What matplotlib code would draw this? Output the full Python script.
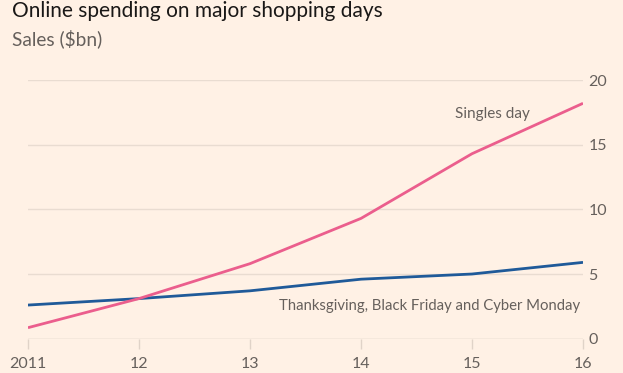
import matplotlib.pyplot as plt

# data
years = [2011, 2012, 2013, 2014, 2015, 2016]
singles_day = [0.85, 3.1, 5.8, 9.3, 14.3, 18.2]
us_days = [2.6, 3.1, 3.7, 4.6, 5.0, 5.9]
year_labels = ['2011', '12', '13', '14', '15', '16']
y_ticks = [0, 5, 10, 15, 20]

bg = '#FFF1E5'
grey = '#66605C'
grid = '#E9DCD1'

plt.rcParams['font.family'] = ['Lato', 'DejaVu Sans']

fig = plt.figure(figsize=(6.23, 3.73), dpi=100, facecolor=bg)
ax = fig.add_axes([0.0449, 0.092, 0.8909, 0.6935], facecolor=bg)

ax.plot(years, us_days, color='#1F5A99', lw=2.0, solid_capstyle='butt', zorder=3)
ax.plot(years, singles_day, color='#EB5E8D', lw=2.0, solid_capstyle='butt', zorder=4)

ax.set_xlim(2011, 2016)
ax.set_ylim(0, 20)
ax.set_xticks(years)
ax.set_xticklabels(year_labels)
ax.set_yticks(y_ticks)
ax.yaxis.tick_right()
ax.grid(axis='y', color=grid, lw=1.0)
for s in ax.spines.values():
    s.set_visible(False)
ax.axhline(0, color='#E0D3C8', lw=1.0, zorder=1)
ax.tick_params(axis='y', length=0, pad=4, labelsize=11.5, labelcolor=grey)
ax.tick_params(axis='x', length=7, width=1, color='#E0D3C8', pad=6,
               labelsize=11.5, labelcolor=grey)

ax.text(2015.52, 17.4, 'Singles day', ha='right', va='center', fontsize=11, color=grey)
ax.text(2015.97, 2.5, 'Thanksgiving, Black Friday and Cyber Monday',
        ha='right', va='center', fontsize=10.7, color=grey)

fig.text(12 / 623, 1 - 17 / 373, 'Online spending on major shopping days',
         ha='left', va='baseline', fontsize=15, color='#1A1817')
fig.text(12 / 623, 1 - 39 / 373, 'Sales ($bn)', ha='left', va='center',
         fontsize=13.8, color=grey)

fig.savefig('out.png', dpi=100, facecolor=bg)
